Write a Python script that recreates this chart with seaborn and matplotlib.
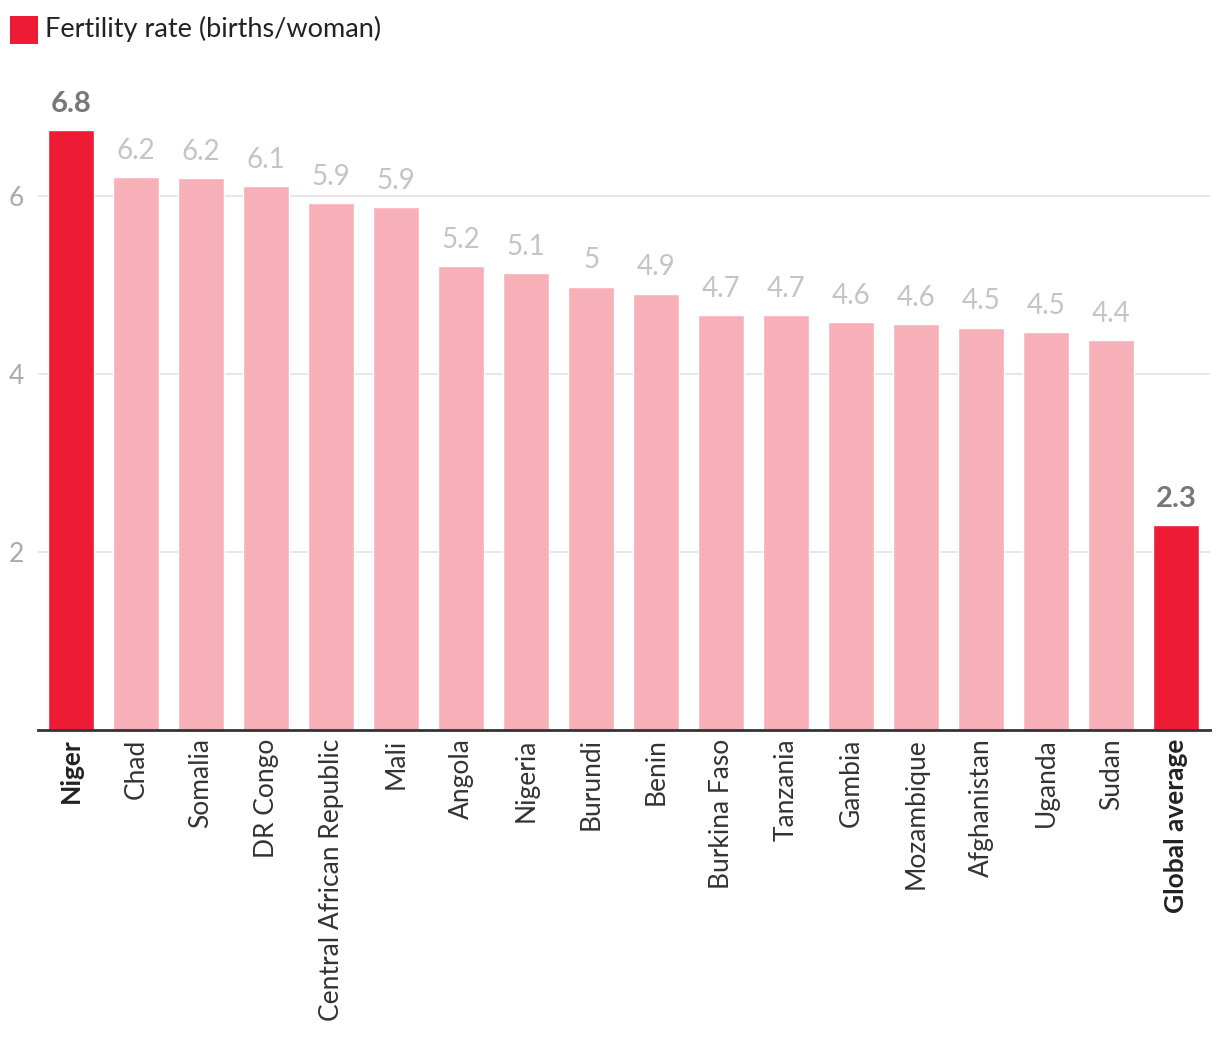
import pandas as pd
import matplotlib.pyplot as plt
import seaborn as sns
from matplotlib.patches import Rectangle

# Dati: tasso di fertilità (nascite per donna)
countries = ['Niger', 'Chad', 'Somalia', 'DR Congo', 'Central African Republic', 'Mali',
             'Angola', 'Nigeria', 'Burundi', 'Benin', 'Burkina Faso', 'Tanzania',
             'Gambia', 'Mozambique', 'Afghanistan', 'Uganda', 'Sudan', 'Global average']
fertility = [6.74, 6.21, 6.20, 6.11, 5.92, 5.87, 5.21, 5.13, 4.98, 4.90, 4.66, 4.66,
             4.58, 4.56, 4.52, 4.47, 4.38, 2.30]
value_labels = ['6.8', '6.2', '6.2', '6.1', '5.9', '5.9', '5.2', '5.1', '5', '4.9', '4.7',
                '4.7', '4.6', '4.6', '4.5', '4.5', '4.4', '2.3']
highlight = ['Niger', 'Global average']

df = pd.DataFrame({'country': countries, 'rate': fertility})
df['group'] = ['hi' if c in highlight else 'lo' for c in df['country']]

sns.set_style('white')
plt.rcParams['font.family'] = ['Lato', 'DejaVu Sans']

fig = plt.figure(figsize=(12.2, 10.48), dpi=100)
ax = fig.add_axes([0.0311, 0.3034, 0.9607, 0.6116])

sns.barplot(data=df, x='country', y='rate', hue='group',
            palette={'hi': '#ed1b33', 'lo': '#f7b0b8'}, dodge=False,
            width=0.71, legend=False, ax=ax, saturation=1)

ax.set_xlim(-0.51, 17.52)
ax.set_ylim(0, 7.2)
ax.set_yticks([2, 4, 6])
ax.yaxis.grid(True, color='#e3e3e3', linewidth=1.2)
ax.set_axisbelow(True)
ax.set_xlabel('')
ax.set_ylabel('')
for s in ['top', 'right', 'left']:
    ax.spines[s].set_visible(False)
ax.spines['bottom'].set_color('#333333')
ax.spines['bottom'].set_linewidth(2)
ax.tick_params(axis='y', length=0, labelsize=19, labelcolor='#aaaaaa', pad=10)
ax.tick_params(axis='x', length=0, labelsize=19, labelcolor='#333333', pad=6)
ax.set_xticks(range(len(countries)))
ax.set_xticklabels(countries, rotation=90)
for t in ax.get_xticklabels():
    if t.get_text() in highlight:
        t.set_fontweight('bold')
        t.set_color('#222222')

# Etichette dei valori sopra le barre
for i, (v, lab) in enumerate(zip(fertility, value_labels)):
    bold = countries[i] in highlight
    ax.text(i, v + 0.15, lab, ha='center', va='bottom',
            fontsize=21 if bold else 20,
            color='#777777' if bold else '#c4c4c4',
            fontweight='bold' if bold else 'normal')

# Legenda in alto a sinistra
fig.add_artist(Rectangle((10 / 1220, 1 - 44 / 1048), 28 / 1220, 28 / 1048,
                         transform=fig.transFigure, color='#ed1b33', lw=0))
fig.text(45 / 1220, 1 - 29 / 1048, 'Fertility rate (births/woman)', fontsize=19.5,
         color='#222222', va='center', ha='left')

fig.savefig('out.png', dpi=100)
